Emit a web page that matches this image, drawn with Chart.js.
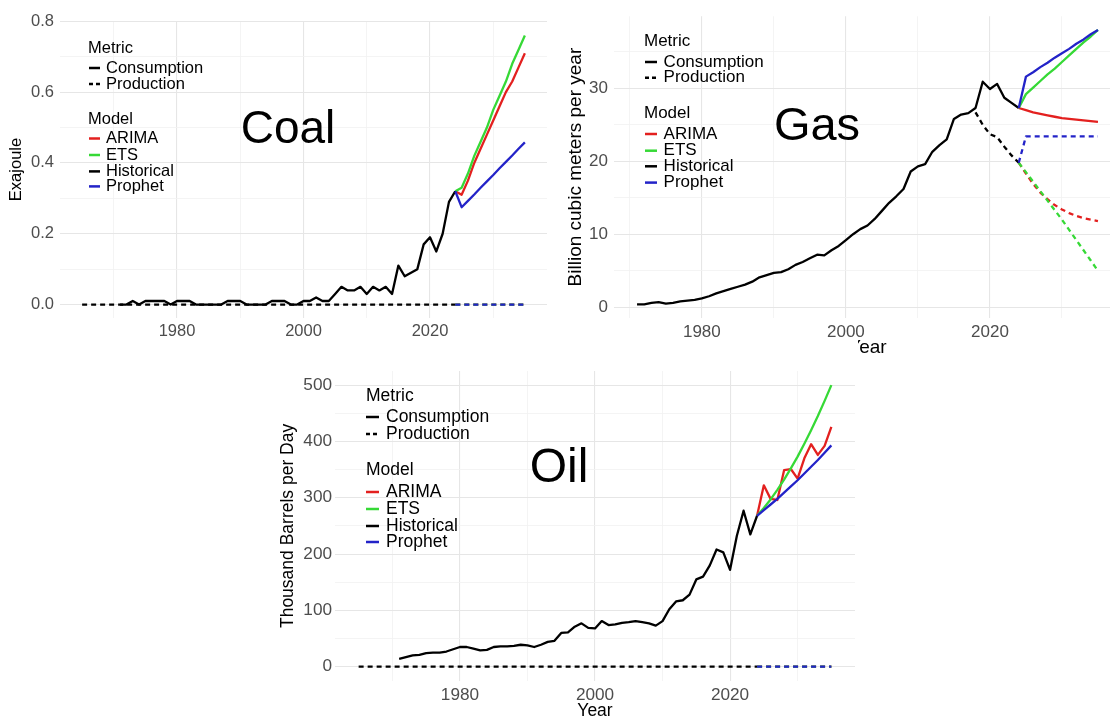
<!DOCTYPE html>
<html>
<head>
<meta charset="utf-8">
<script src="https://cdn.jsdelivr.net/npm/chart.js@4.4.1/dist/chart.umd.min.js"></script>
<style>
  html, body { margin: 0; padding: 0; background: #fff; }
  #page { position: relative; width: 1110px; height: 720px; overflow: hidden; background: #fff; }
  canvas { position: absolute; }
  #gas { left: 555px; top: 0; z-index: 1; }
  #coal { left: 0; top: 0; z-index: 2; }
  #oil { left: 270px; top: 340px; z-index: 3; }
</style>
</head>
<body>
<div id="page">
  <canvas id="gas" width="570" height="365"></canvas>
  <canvas id="coal" width="558" height="360"></canvas>
  <canvas id="oil" width="588" height="382"></canvas>
</div>
<script>
// Anos
const prodYears = [1965, 1966, 1967, 1968, 1969, 1970, 1971, 1972, 1973, 1974, 1975, 1976, 1977, 1978, 1979,
  1980, 1981, 1982, 1983, 1984, 1985, 1986, 1987, 1988, 1989, 1990, 1991, 1992, 1993, 1994, 1995, 1996, 1997,
  1998, 1999, 2000, 2001, 2002, 2003, 2004, 2005, 2006, 2007, 2008, 2009, 2010, 2011, 2012, 2013, 2014, 2015,
  2016, 2017, 2018, 2019, 2020, 2021, 2022, 2023, 2024];
const histYears = [1971, 1972, 1973, 1974, 1975, 1976, 1977, 1978, 1979, 1980, 1981, 1982, 1983, 1984, 1985,
  1986, 1987, 1988, 1989, 1990, 1991, 1992, 1993, 1994, 1995, 1996, 1997, 1998, 1999, 2000, 2001, 2002, 2003,
  2004, 2005, 2006, 2007, 2008, 2009, 2010, 2011, 2012, 2013, 2014, 2015, 2016, 2017, 2018, 2019, 2020, 2021,
  2022, 2023, 2024];
const forecastYears = [2024, 2025, 2026, 2027, 2028, 2029, 2030, 2031, 2032, 2033, 2034, 2035];
const gasProdYears = [2018, 2019, 2020, 2021, 2022, 2023, 2024];

// Carvão (Exajoule)
const coalConsumption = [0, 0, 0.01, 0, 0.01, 0.01, 0.01, 0.01, 0, 0.01,
  0.01, 0.01, 0, 0, 0, 0, 0, 0.01, 0.01, 0.01,
  0, 0, 0, 0, 0.01, 0.01, 0.01, 0, 0, 0.01,
  0.01, 0.02, 0.01, 0.01, 0.03, 0.05, 0.04, 0.04, 0.05, 0.03,
  0.05, 0.04, 0.05, 0.03, 0.11, 0.08, 0.09, 0.10, 0.17, 0.19,
  0.15, 0.20, 0.29, 0.32];
const coalProduction = [0, 0, 0, 0, 0, 0, 0, 0, 0, 0, 0, 0, 0, 0, 0, 0, 0, 0, 0, 0, 0, 0, 0, 0, 0, 0, 0, 0, 0, 0,
  0, 0, 0, 0, 0, 0, 0, 0, 0, 0, 0, 0, 0, 0, 0, 0, 0, 0, 0, 0, 0, 0, 0, 0, 0, 0, 0, 0, 0, 0];
const coalArimaCons = [0.32, 0.31, 0.35, 0.40, 0.44, 0.48, 0.52, 0.56, 0.60, 0.63, 0.67, 0.71];
const coalEtsCons = [0.32, 0.33, 0.37, 0.42, 0.46, 0.50, 0.55, 0.59, 0.63, 0.68, 0.72, 0.76];
const coalProphetCons = [0.32, 0.275, 0.293, 0.311, 0.33, 0.348, 0.366, 0.385, 0.403, 0.421, 0.44, 0.458];
const coalArimaProd = [0, 0, 0, 0, 0, 0, 0, 0, 0, 0, 0, 0];
const coalEtsProd = [0, 0, 0, 0, 0, 0, 0, 0, 0, 0, 0, 0];
const coalProphetProd = [0, 0, 0, 0, 0, 0, 0, 0, 0, 0, 0, 0];

// Gás (bilhões de m3 por ano)
const gasConsumption = [0.4, 0.4, 0.6, 0.7, 0.5, 0.6, 0.8, 0.9, 1.0, 1.2,
  1.5, 1.9, 2.2, 2.5, 2.8, 3.1, 3.5, 4.1, 4.4, 4.7,
  4.8, 5.2, 5.8, 6.2, 6.7, 7.2, 7.1, 7.8, 8.4, 9.2,
  10.0, 10.7, 11.2, 12.1, 13.2, 14.3, 15.2, 16.2, 18.6, 19.3,
  19.6, 21.3, 22.2, 23.0, 25.8, 26.4, 26.6, 27.3, 30.9, 29.9,
  30.6, 28.7, 28.0, 27.3];
const gasProduction = [26.7, 25.0, 23.7, 23.3, 22.0, 20.8, 19.8];
const gasArimaCons = [27.3, 27.0, 26.7, 26.5, 26.3, 26.1, 25.9, 25.8, 25.7, 25.6, 25.5, 25.4];
const gasEtsCons = [27.3, 29.2, 30.1, 31.0, 31.9, 32.7, 33.6, 34.5, 35.4, 36.3, 37.1, 38.0];
const gasProphetCons = [27.3, 31.6, 32.2, 32.9, 33.5, 34.2, 34.8, 35.4, 36.1, 36.7, 37.4, 38.0];
const gasArimaProd = [19.8, 18.3, 16.9, 15.7, 14.8, 14.0, 13.4, 12.9, 12.5, 12.2, 12.0, 11.8];
const gasEtsProd = [19.8, 18.5, 17.2, 15.9, 14.6, 13.3, 12.0, 10.6, 9.2, 7.8, 6.4, 5.0];
const gasProphetProd = [19.8, 23.4, 23.4, 23.4, 23.4, 23.4, 23.4, 23.4, 23.4, 23.4, 23.4, 23.4];

// Petróleo (mil barris por dia)
const oilConsumption = [14, 17, 20, 21, 24, 25, 25, 27, 31, 35,
  35, 32, 29, 30, 35, 36, 36, 37, 39, 38,
  35, 39, 44, 46, 60, 61, 71, 77, 69, 68,
  81, 74, 75, 78, 79, 81, 79, 77, 73, 81,
  102, 116, 118, 128, 155, 160, 180, 208, 203, 172,
  232, 277, 235, 268];
const oilProduction = [0, 0, 0, 0, 0, 0, 0, 0, 0, 0, 0, 0, 0, 0, 0, 0, 0, 0, 0, 0, 0, 0, 0, 0, 0, 0, 0, 0, 0, 0,
  0, 0, 0, 0, 0, 0, 0, 0, 0, 0, 0, 0, 0, 0, 0, 0, 0, 0, 0, 0, 0, 0, 0, 0, 0, 0, 0, 0, 0, 0];
const oilArimaCons = [268, 322, 298, 296, 349, 351, 334, 370, 395, 376, 392, 426];
const oilEtsCons = [268, 282, 297, 314, 332, 352, 373, 396, 420, 445, 472, 500];
const oilProphetCons = [268, 278, 288, 298, 309, 320, 331, 343, 355, 367, 380, 393];
const oilArimaProd = [0, 0, 0, 0, 0, 0, 0, 0, 0, 0, 0, 0];
const oilEtsProd = [0, 0, 0, 0, 0, 0, 0, 0, 0, 0, 0, 0];
const oilProphetProd = [0, 0, 0, 0, 0, 0, 0, 0, 0, 0, 0, 0];

// Ticks
const xMajorTicks = [1980, 2000, 2020];
const xMinorTicks = [1970, 1990, 2010, 2030];
const coalYMajor = [0, 0.2, 0.4, 0.6, 0.8];
const coalYMinor = [0.1, 0.3, 0.5, 0.7];
const gasYMajor = [0, 10, 20, 30];
const gasYMinor = [5, 15, 25, 35];
const oilYMajor = [0, 100, 200, 300, 400, 500];
const oilYMinor = [50, 150, 250, 350, 450];

// Legenda
const metricLabels = ['Consumption', 'Production'];
const modelLabels = ['ARIMA', 'ETS', 'Historical', 'Prophet'];

const FONT = '"Liberation Sans", Arial, sans-serif';
const RED = '#e3201f';
const GREEN = '#36d936';
const BLUE = '#2323c8';
const BLACK = '#000000';
const modelColors = [RED, GREEN, BLACK, BLUE];

function pts(xs, ys) {
    return xs.map((x, i) => ({ x: x, y: ys[i] }));
}

function serie(label, xs, ys, color, dashed, order) {
    return {
        label: label,
        data: pts(xs, ys),
        borderColor: color,
        borderWidth: 2.3,
        borderDash: dashed ? [5, 4] : [],
        borderJoinStyle: 'round',
        pointRadius: 0,
        tension: 0,
        fill: false,
        order: order
    };
}

// Escalas no estilo ggplot minimal
function escalas(c) {
    const grade = (major) => ({
        color: ctx => (ctx.tick && major.includes(ctx.tick.value)) ? '#e6e6e6' : '#f1f1f1',
        lineWidth: ctx => (ctx.tick && major.includes(ctx.tick.value)) ? 1.1 : 0.8,
        drawTicks: false,
        tickLength: 0
    });
    return {
        x: {
            type: 'linear',
            min: c.xMin, max: c.xMax,
            afterBuildTicks: s => { s.ticks = xMinorTicks.concat(xMajorTicks).sort((a, b) => a - b).map(v => ({ value: v })); },
            afterFit: s => { s.height = c.xHeight; },
            ticks: {
                autoSkip: false, maxRotation: 0, padding: c.xPad,
                color: '#4d4d4d', font: { family: FONT, size: c.tick },
                callback: v => xMajorTicks.includes(v) ? String(v) : ''
            },
            grid: grade(xMajorTicks),
            border: { display: false },
            title: { display: true, text: 'Year', color: '#000', font: { family: FONT, size: c.axisTitle }, padding: { top: 0, bottom: c.xTitlePad } }
        },
        y: {
            type: 'linear',
            min: c.yMin, max: c.yMax,
            afterBuildTicks: s => { s.ticks = c.yMinor.concat(c.yMajor).sort((a, b) => a - b).map(v => ({ value: v })); },
            afterFit: s => { s.width = c.yWidth; },
            ticks: {
                autoSkip: false, padding: c.yPad,
                color: '#4d4d4d', font: { family: FONT, size: c.tick },
                callback: v => c.yMajor.includes(v) ? c.fmt(v) : ''
            },
            grid: grade(c.yMajor),
            border: { display: false },
            title: { display: true, text: c.yTitle, color: '#000', font: { family: FONT, size: c.axisTitle }, padding: { top: c.yTitlePad, bottom: 0 } }
        }
    };
}

// Fundo branco, título grande e legenda dentro do painel
const painel = {
    id: 'painel',
    beforeDraw(chart) {
        const ctx = chart.ctx;
        ctx.save();
        ctx.fillStyle = '#fff';
        ctx.fillRect(0, 0, chart.width, chart.height);
        ctx.restore();
    },
    afterDraw(chart, args, o) {
        const ctx = chart.ctx;
        ctx.save();
        ctx.fillStyle = '#000';
        ctx.textBaseline = 'middle';
        ctx.textAlign = 'center';
        ctx.font = o.bigSize + 'px ' + FONT;
        ctx.fillText(o.name, o.bigX, o.bigY);

        ctx.textAlign = 'left';
        ctx.font = o.size + 'px ' + FONT;
        ctx.lineWidth = 2.5;
        const chave = (y, color, dashed) => {
            ctx.strokeStyle = color;
            ctx.setLineDash(dashed ? [4, 3] : []);
            ctx.beginPath();
            ctx.moveTo(o.keyX, y);
            ctx.lineTo(o.keyX + o.keyW, y);
            ctx.stroke();
        };
        ctx.fillText('Metric', o.x, o.rows[0]);
        metricLabels.forEach((lab, i) => {
            chave(o.rows[1 + i], BLACK, i === 1);
            ctx.fillText(lab, o.textX, o.rows[1 + i]);
        });
        ctx.fillText('Model', o.x, o.rows[3]);
        modelLabels.forEach((lab, i) => {
            chave(o.rows[4 + i], modelColors[i], false);
            ctx.fillText(lab, o.textX, o.rows[4 + i]);
        });
        ctx.restore();
    }
};

function grafico(id, datasets, sc, padding, texto) {
    return new Chart(document.getElementById(id), {
        type: 'line',
        data: { datasets: datasets },
        options: {
            responsive: false,
            animation: false,
            devicePixelRatio: 1,
            layout: { padding: padding },
            plugins: { legend: { display: false }, tooltip: { enabled: false }, painel: texto },
            scales: escalas(sc)
        },
        plugins: [painel]
    });
}

// Coal
grafico('coal', [
    serie('Historical Consumption', histYears, coalConsumption, BLACK, false, 3),
    serie('Historical Production', prodYears, coalProduction, BLACK, true, 3),
    serie('ARIMA Consumption', forecastYears, coalArimaCons, RED, false, 5),
    serie('ETS Consumption', forecastYears, coalEtsCons, GREEN, false, 4),
    serie('Prophet Consumption', forecastYears, coalProphetCons, BLUE, false, 1),
    serie('ARIMA Production', forecastYears, coalArimaProd, RED, true, 5),
    serie('ETS Production', forecastYears, coalEtsProd, GREEN, true, 4),
    serie('Prophet Production', forecastYears, coalProphetProd, BLUE, true, 1)
], {
    xMin: 1961.5, xMax: 2038.5, yMin: -0.038, yMax: 0.801,
    yMajor: coalYMajor, yMinor: coalYMinor, fmt: v => v.toFixed(1),
    yTitle: 'Exajoule', tick: 16.5, axisTitle: 16.5,
    xHeight: 42, yWidth: 60, xPad: 4, yPad: 6, xTitlePad: 0, yTitlePad: 7
}, { top: 21, right: 11, bottom: 0, left: 0 }, {
    name: 'Coal', bigSize: 46, bigX: 288, bigY: 130,
    size: 16.5, x: 88, keyX: 89, keyW: 11, textX: 106,
    rows: [48, 68, 84, 119, 138.5, 155, 171.4, 186.4]
});

// Gas
grafico('gas', [
    serie('Historical Consumption', histYears, gasConsumption, BLACK, false, 3),
    serie('Historical Production', gasProdYears, gasProduction, BLACK, true, 3),
    serie('ARIMA Consumption', forecastYears, gasArimaCons, RED, false, 5),
    serie('ETS Consumption', forecastYears, gasEtsCons, GREEN, false, 4),
    serie('Prophet Consumption', forecastYears, gasProphetCons, BLUE, false, 1),
    serie('ARIMA Production', forecastYears, gasArimaProd, RED, true, 5),
    serie('ETS Production', forecastYears, gasEtsProd, GREEN, true, 4),
    serie('Prophet Production', forecastYears, gasProphetProd, BLUE, true, 1)
], {
    xMin: 1967.8, xMax: 2038.2, yMin: -1.48, yMax: 39.88,
    yMajor: gasYMajor, yMinor: gasYMinor, fmt: v => String(v),
    yTitle: 'Billion cubic meters per year', tick: 17, axisTitle: 19,
    xHeight: 47, yWidth: 59, xPad: 4, yPad: 6, xTitlePad: 5.6, yTitlePad: 9
}, { top: 11, right: 4, bottom: 0, left: 0 }, {
    name: 'Gas', bigSize: 47, bigX: 262, bigY: 127,
    size: 17, x: 89, keyX: 90, keyW: 12, textX: 108.6,
    rows: [41.4, 62, 77.7, 113.6, 134, 150.7, 166.3, 182.6]
});

// Oil
grafico('oil', [
    serie('Historical Consumption', histYears, oilConsumption, BLACK, false, 3),
    serie('Historical Production', prodYears, oilProduction, BLACK, true, 3),
    serie('ARIMA Consumption', forecastYears, oilArimaCons, RED, false, 5),
    serie('ETS Consumption', forecastYears, oilEtsCons, GREEN, false, 4),
    serie('Prophet Consumption', forecastYears, oilProphetCons, BLUE, false, 1),
    serie('ARIMA Production', forecastYears, oilArimaProd, RED, true, 5),
    serie('ETS Production', forecastYears, oilEtsProd, GREEN, true, 4),
    serie('Prophet Production', forecastYears, oilProphetProd, BLUE, true, 1)
], {
    xMin: 1961.5, xMax: 2038.5, yMin: -25, yMax: 525,
    yMajor: oilYMajor, yMinor: oilYMinor, fmt: v => String(v),
    yTitle: 'Thousand Barrels per Day', tick: 17.2, axisTitle: 17.5,
    xHeight: 41.2, yWidth: 65, xPad: 4, yPad: 3, xTitlePad: 0, yTitlePad: 7.8
}, { top: 31, right: 3, bottom: 0, left: 0 }, {
    name: 'Oil', bigSize: 48, bigX: 289, bigY: 129,
    size: 17.5, x: 96, keyX: 96, keyW: 13, textX: 116,
    rows: [56, 77, 94, 130, 152, 169, 186, 202]
});
</script>
</body>
</html>
